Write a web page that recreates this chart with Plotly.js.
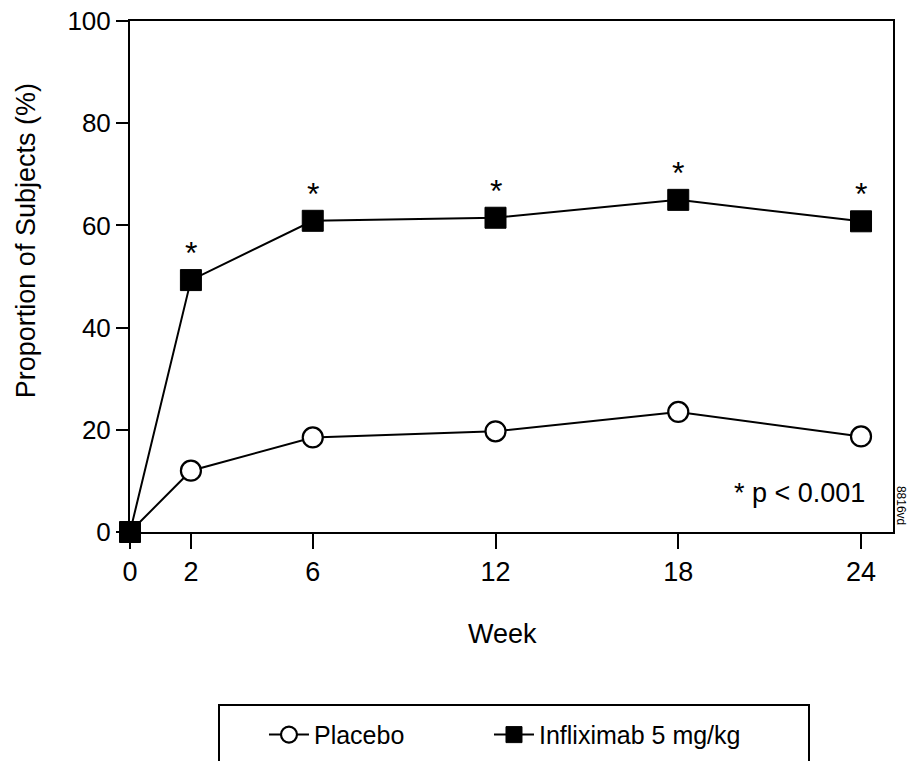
<!DOCTYPE html>
<html>
<head>
<meta charset="utf-8">
<script src="https://cdn.plot.ly/plotly-3.0.1.min.js"></script>
<style>html,body{margin:0;padding:0;background:#fff;}#chart{width:911px;height:761px;}</style>
</head>
<body>
<div id="chart"></div>
<script>
const weeks = [0, 2, 6, 12, 18, 24];
const placebo = [0, 12, 18.5, 19.7, 23.5, 18.7];
const infliximab = [0, 49.3, 60.9, 61.5, 65.0, 60.8];
const starWeeks = [2, 6, 12, 18, 24];
const xTickVals = [0, 2, 6, 12, 18, 24];
const xTickText = ['0', '2', '6', '12', '18', '24'];
const yTickVals = [0, 20, 40, 60, 80, 100];

const FONT = 'Liberation Sans, Arial, sans-serif';

const traces = [
  {
    x: weeks, y: placebo, name: 'Placebo', type: 'scatter', mode: 'lines+markers',
    line: {color: '#000', width: 2},
    marker: {symbol: 'circle', size: 20, color: '#fff', line: {color: '#000', width: 2.2}},
    cliponaxis: false, legend: 'legend'
  },
  {
    x: weeks, y: infliximab, name: 'Infliximab 5 mg/kg', type: 'scatter', mode: 'lines+markers',
    line: {color: '#000', width: 2},
    marker: {symbol: 'square', size: 21, color: '#000', line: {color: '#000', width: 1}},
    cliponaxis: false, legend: 'legend2'
  }
];

const annotations = starWeeks.map(function (w) {
  const i = weeks.indexOf(w);
  return {
    x: w, y: infliximab[i], xref: 'x', yref: 'y', text: '*', showarrow: false,
    yshift: 27, xanchor: 'center', yanchor: 'middle',
    font: {family: FONT, size: 32, color: '#000'}
  };
});
annotations.push({
  x: -0.137, y: 0.57, xref: 'paper', yref: 'paper', text: 'Proportion of Subjects (%)',
  textangle: -90, showarrow: false, xanchor: 'center', yanchor: 'middle',
  font: {family: FONT, size: 27, color: '#000'}
});
annotations.push({
  x: 0.4876, y: -0.2, xref: 'paper', yref: 'paper', text: 'Week',
  showarrow: false, xanchor: 'center', yanchor: 'middle',
  font: {family: FONT, size: 27, color: '#000'}
});
annotations.push({
  x: 0.966, y: 0.076, xref: 'paper', yref: 'paper', text: '* p < 0.001',
  showarrow: false, xanchor: 'right', yanchor: 'middle',
  font: {family: FONT, size: 27, color: '#000'}
});
annotations.push({
  x: 1.0105, y: 0.053, xref: 'paper', yref: 'paper', text: '8816vd',
  textangle: 90, showarrow: false, xanchor: 'center', yanchor: 'middle',
  font: {family: FONT, size: 12, color: '#000'}
});

const legendCommon = {
  orientation: 'h', xanchor: 'left', y: -0.397, yanchor: 'middle',
  font: {family: FONT, size: 25, color: '#000'},
  bgcolor: 'rgba(0,0,0,0)', borderwidth: 0, itemwidth: 40
};

const layout = {
  width: 911, height: 761,
  margin: {l: 130, r: 18, t: 21, b: 229, autoexpand: false},
  paper_bgcolor: '#fff', plot_bgcolor: '#fff',
  font: {family: FONT, color: '#000'},
  showlegend: true,
  legend: Object.assign({}, legendCommon, {x: 0.1756}),
  legend2: Object.assign({}, legendCommon, {x: 0.4705}),
  xaxis: {
    range: [0, 25.05], tickvals: xTickVals, ticktext: xTickText,
    ticks: 'outside', ticklen: 15, tickwidth: 2, tickcolor: '#000',
    showline: true, linecolor: '#000', linewidth: 2, mirror: true,
    showgrid: false, zeroline: false,
    tickfont: {family: FONT, size: 27, color: '#000'}
  },
  yaxis: {
    range: [0, 100], tickvals: yTickVals,
    ticks: 'outside', ticklen: 12, tickwidth: 2, tickcolor: '#000',
    showline: true, linecolor: '#000', linewidth: 2, mirror: true,
    showgrid: false, zeroline: false,
    tickfont: {family: FONT, size: 26, color: '#000'}
  },
  annotations: annotations,
  shapes: [{
    type: 'rect', xref: 'paper', yref: 'paper',
    x0: (219 - 130) / 763, x1: (809 - 130) / 763,
    y0: -0.5, y1: -0.3386,
    line: {color: '#000', width: 2}, fillcolor: 'rgba(0,0,0,0)'
  }]
};

Plotly.newPlot('chart', traces, layout, {displayModeBar: false, staticPlot: true});
</script>
</body>
</html>
